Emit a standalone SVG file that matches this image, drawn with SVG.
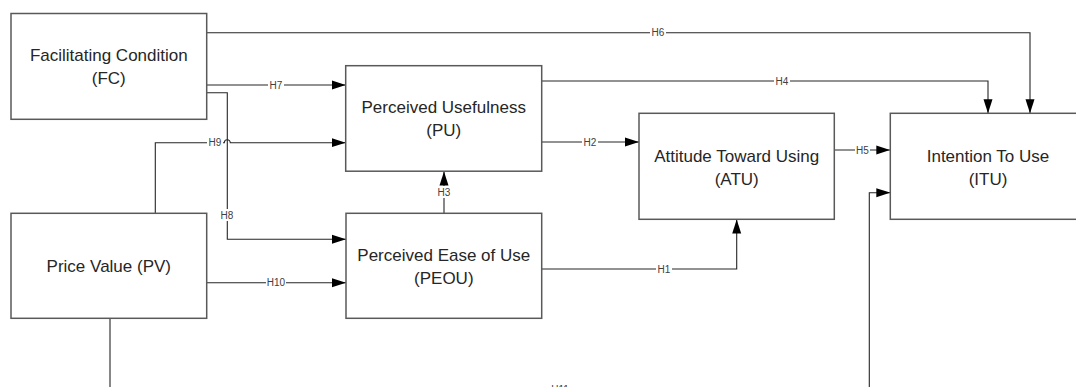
<svg xmlns="http://www.w3.org/2000/svg" width="1076" height="387" viewBox="0 0 1076 387">
<style>
.box{fill:#ffffff;stroke:#595959;stroke-width:1.5}
.t{font-family:"Liberation Sans",Arial,sans-serif;font-size:17px;fill:#262626;text-anchor:middle}
.c{fill:none;stroke:#262626;stroke-width:1.1}
.lb{fill:#ffffff}
.l{font-family:"Liberation Sans",Arial,sans-serif;font-size:10px;fill:#404040;text-anchor:middle;dominant-baseline:central}
</style>
<defs>
<marker id="ah" markerUnits="userSpaceOnUse" markerWidth="14" markerHeight="10" refX="14" refY="5" orient="auto">
<path d="M0,0.5 L14,5 L0,9.5 z" fill="#000000"/>
</marker>
</defs>
<g id="connectors">
<path class="c" marker-end="url(#ah)" d="M206.7,32.7 H1030 V113.3"/>
<path class="c" marker-end="url(#ah)" d="M541.7,81 H988 V113.3"/>
<path class="c" marker-end="url(#ah)" d="M206.7,85 H345.7"/>
<path class="c" marker-end="url(#ah)" d="M206.7,92.7 H227.3 V239.3 H346"/>
<path class="c" marker-end="url(#ah)" d="M155.3,213.3 V142.7 H224.3 A3,3 0 0 1 230.3,142.7 H345.7"/>
<path class="c" marker-end="url(#ah)" d="M206.7,282.7 H346"/>
<path class="c" marker-end="url(#ah)" d="M444,213.3 V171.5"/>
<path class="c" marker-end="url(#ah)" d="M541.7,142 H639"/>
<path class="c" marker-end="url(#ah)" d="M541.7,269 H736.7 V219.5"/>
<path class="c" marker-end="url(#ah)" d="M834.3,150 H890.3"/>
<path class="c" marker-end="url(#ah)" d="M110,318.3 V389 H869.3 V192.7 H890.3"/>
<g id="labels">
<rect class="lb" x="650" y="28" width="16" height="10"/><text class="l" x="658" y="32.7">H6</text>
<rect class="lb" x="774" y="76" width="16" height="10"/><text class="l" x="782" y="81">H4</text>
<rect class="lb" x="268" y="80" width="16" height="10"/><text class="l" x="276" y="85">H7</text>
<rect class="lb" x="207" y="138" width="16" height="10"/><text class="l" x="215" y="142.7">H9</text>
<rect class="lb" x="219" y="209" width="16" height="12"/><text class="l" x="227" y="215">H8</text>
<rect class="lb" x="266" y="278" width="20" height="10"/><text class="l" x="276" y="282.7">H10</text>
<rect class="lb" x="436" y="186" width="16" height="12"/><text class="l" x="444" y="192">H3</text>
<rect class="lb" x="582" y="137" width="16" height="10"/><text class="l" x="590" y="142">H2</text>
<rect class="lb" x="656" y="264" width="16" height="10"/><text class="l" x="664" y="269">H1</text>
<rect class="lb" x="855" y="145" width="15" height="10"/><text class="l" x="862.5" y="150">H5</text>
<rect class="lb" x="550" y="384" width="20" height="10"/><text class="l" x="560" y="389">H11</text>
</g>
</g>
<g id="FC"><rect class="box" x="11" y="13.5" width="195.7" height="105.8"/><text class="t" x="108.8" y="61">Facilitating Condition</text><text class="t" x="108.8" y="84">(FC)</text></g>
<g id="PU"><rect class="box" x="345.7" y="65.7" width="196" height="105.5"/><text class="t" x="443.7" y="113">Perceived Usefulness</text><text class="t" x="443.7" y="136">(PU)</text></g>
<g id="ATU"><rect class="box" x="639" y="113.3" width="195.3" height="106"/><text class="t" x="736.7" y="161.5">Attitude Toward Using</text><text class="t" x="736.7" y="184.5">(ATU)</text></g>
<g id="ITU"><rect class="box" x="890.3" y="113.3" width="196" height="106"/><text class="t" x="988" y="161.5">Intention To Use</text><text class="t" x="988" y="184.5">(ITU)</text></g>
<g id="PV"><rect class="box" x="11" y="213.3" width="195.7" height="105"/><text class="t" x="108.8" y="271.5">Price Value (PV)</text></g>
<g id="PEOU"><rect class="box" x="346" y="213.3" width="195.7" height="105"/><text class="t" x="443.8" y="261">Perceived Ease of Use</text><text class="t" x="443.8" y="284">(PEOU)</text></g>
</svg>
